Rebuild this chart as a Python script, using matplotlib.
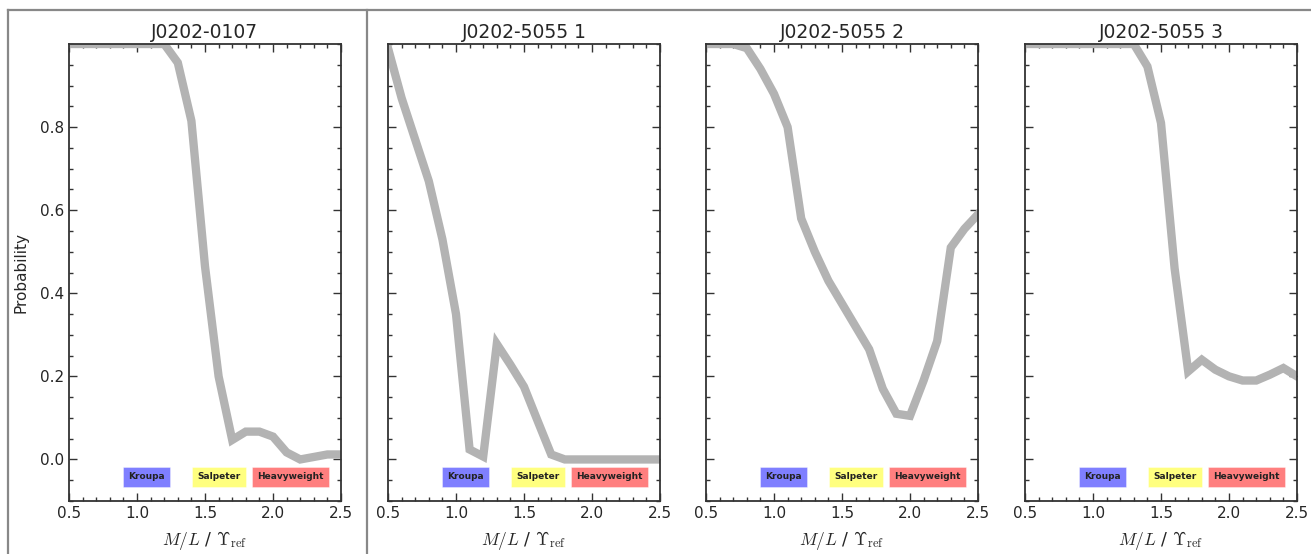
import matplotlib
matplotlib.use("Agg")
import matplotlib.pyplot as plt
from matplotlib.lines import Line2D
from matplotlib.ticker import MultipleLocator

plt.rcParams['mathtext.fontset'] = 'cm'
plt.rcParams['font.family'] = ['DejaVu Sans']

titles = ["J0202-0107", "J0202-5055 1", "J0202-5055 2", "J0202-5055 3"]
ml = [0.5, 0.6, 0.7, 0.8, 0.9, 1.0, 1.1, 1.2, 1.3, 1.4, 1.5,
      1.6, 1.7, 1.8, 1.9, 2.0, 2.1, 2.2, 2.3, 2.4, 2.5]
prob_0107 = [1.0, 1.0, 1.0, 1.0, 1.0, 1.0, 1.0, 1.0, 0.955, 0.815, 0.465,
             0.2, 0.047, 0.067, 0.067, 0.055, 0.017, 0.0, 0.006, 0.012, 0.012]
prob_5055_1 = [0.99, 0.87, 0.77, 0.67, 0.53, 0.35, 0.024, 0.007, 0.278, 0.228, 0.175,
               0.093, 0.012, 0.0, 0.0, 0.0, 0.0, 0.0, 0.0, 0.0, 0.0]
prob_5055_2 = [1.0, 1.0, 1.0, 0.99, 0.94, 0.88, 0.80, 0.58, 0.50, 0.43, 0.375,
               0.32, 0.265, 0.17, 0.11, 0.105, 0.19, 0.285, 0.51, 0.555, 0.59]
prob_5055_3 = [1.0, 1.0, 1.0, 1.0, 1.0, 1.0, 1.0, 1.0, 1.0, 0.946, 0.81,
               0.46, 0.212, 0.24, 0.216, 0.2, 0.19, 0.19, 0.204, 0.22, 0.2]
series = [prob_0107, prob_5055_1, prob_5055_2, prob_5055_3]

imf_names = ["Kroupa", "Salpeter", "Heavyweight"]
imf_x = [1.07, 1.6, 2.13]
imf_colors = ["blue", "yellow", "red"]
yticks = [0.0, 0.2, 0.4, 0.6, 0.8]
xticks = [0.5, 1.0, 1.5, 2.0, 2.5]

W, H = 1311, 554
fig = plt.figure(figsize=(W / 100, H / 100), dpi=100)
fig.patch.set_facecolor('white')

lefts = [69, 388, 706, 1025]
axw, top, bottom = 272, 44, 501
txtc = '#262626'
for i, (lx, y, t) in enumerate(zip(lefts, series, titles)):
    ax = fig.add_axes([lx / W, (H - bottom) / H, axw / W, (bottom - top) / H])
    ax.plot(ml, y, color='#b3b3b3', lw=6, solid_joinstyle='miter')
    ax.set_xlim(0.5, 2.5)
    ax.set_ylim(-0.1, 1.0)
    ax.set_xticks(xticks)
    ax.set_yticks(yticks)
    ax.xaxis.set_minor_locator(MultipleLocator(0.1))
    ax.yaxis.set_minor_locator(MultipleLocator(0.05))
    ax.tick_params(which='both', direction='in', top=True, right=True,
                   color='#333333', labelsize=11, labelcolor=txtc, width=1)
    ax.tick_params(which='major', length=6)
    ax.tick_params(which='minor', length=3)
    for s in ax.spines.values():
        s.set_color('#333333')
        s.set_linewidth(1.3)
    if i > 0:
        ax.set_yticklabels([])
    else:
        ax.set_ylabel('Probability', fontsize=11, color=txtc, labelpad=8)
    ax.set_xlabel(r'$M/L$ / $\Upsilon_{\rm ref}$', fontsize=12.5, color=txtc, labelpad=6)
    ax.set_title(t, fontsize=13.5, color=txtc, pad=4)
    for name, xx, c in zip(imf_names, imf_x, imf_colors):
        ax.text(xx, -0.042, name, ha='center', va='center', fontsize=6.5,
                fontweight='bold', color='#222222',
                bbox=dict(boxstyle='square,pad=0.6', facecolor=c, alpha=0.5,
                          edgecolor='white', linewidth=0.5))

# panel frames
fc = '#888888'
def fl(x0, y0, x1, y1):
    fig.add_artist(Line2D([x0 / W, x1 / W], [1 - y0 / H, 1 - y1 / H],
                          transform=fig.transFigure, color=fc, lw=1.6))
fl(8, 10, W + 5, 10)
fl(8, 10, 8, H + 5)
fl(367, 10, 367, H + 5)

fig.savefig('out.png', dpi=100)
